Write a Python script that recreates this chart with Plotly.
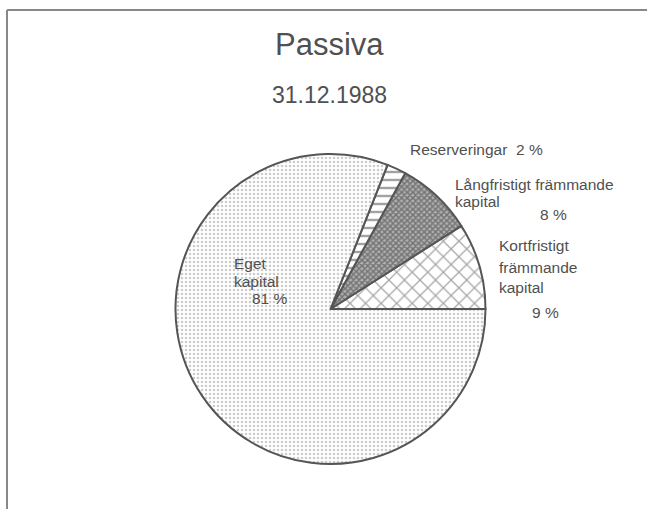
import plotly.graph_objects as go

W, H = 647, 509
categories = ["Kortfristigt främmande kapital", "Långfristigt främmande kapital", "Reserveringar", "Eget kapital"]
values = [9, 8, 2, 81]
shapes_pat = ["x", "x", "-", "."]
pat_sizes = [11, 4, 8, 4]
pat_fg = ["#505050", "#333333", "#454545", "#9a9a9a"]
pat_bg = ["white", "#b0b0b0", "white", "white"]
pat_sol = [0.22, 0.6, 0.3, 0.35]

cx, cy, r = 330.5, 309, 155

fig = go.Figure(go.Pie(
    labels=categories, values=values, sort=False,
    direction="counterclockwise", rotation=90 - 360 * values[0] / sum(values),
    textinfo="none", hoverinfo="label+percent", showlegend=False,
    domain=dict(x=[(cx - r) / W, (cx + r) / W], y=[(H - cy - r) / H, (H - cy + r) / H]),
    marker=dict(colors=["white"] * 4,
                line=dict(color="#555555", width=2),
                pattern=dict(shape=shapes_pat, size=pat_sizes, fgcolor=pat_fg,
                             bgcolor=pat_bg, solidity=pat_sol, fillmode="overlay")),
))

font = "Liberation Sans, Arial, Helvetica, sans-serif"
txt = "#505050"

def ann(x, y, t, size=15.5, xa="left"):
    return dict(x=x / W, y=1 - y / H, xref="paper", yref="paper", text=t, showarrow=False,
                xanchor=xa, yanchor="middle", font=dict(family=font, size=size, color=txt))

annotations = [
    ann(330, 44, "Passiva", 31, "center"),
    ann(330, 95, "31.12.1988", 23, "center"),
    ann(408, 150, "Reserveringar  2 %"),
    ann(453, 184, "Långfristigt främmande"),
    ann(453, 201, "kapital"),
    ann(538, 215, "8 %"),
    ann(497, 245, "Kortfristigt"),
    ann(497, 267, "främmande"),
    ann(497, 287, "kapital"),
    ann(530, 312, "9 %"),
    ann(232, 263, "Eget"),
    ann(232, 281, "kapital"),
    ann(250, 298, "81 %"),
]

fig.update_layout(
    width=W, height=H, margin=dict(l=0, r=0, t=0, b=0),
    paper_bgcolor="white", plot_bgcolor="white",
    annotations=annotations,
    shapes=[
        dict(type="line", xref="paper", yref="paper", x0=7 / W, x1=1, y0=1 - 10 / H, y1=1 - 10 / H,
             line=dict(color="#888888", width=2)),
        dict(type="line", xref="paper", yref="paper", x0=7 / W, x1=7 / W, y0=1 - 10 / H, y1=0,
             line=dict(color="#888888", width=2)),
    ],
)
fig.write_html("out.html", config={"displayModeBar": False},
               post_script="document.body.style.margin='0';document.body.style.overflow='hidden';")
